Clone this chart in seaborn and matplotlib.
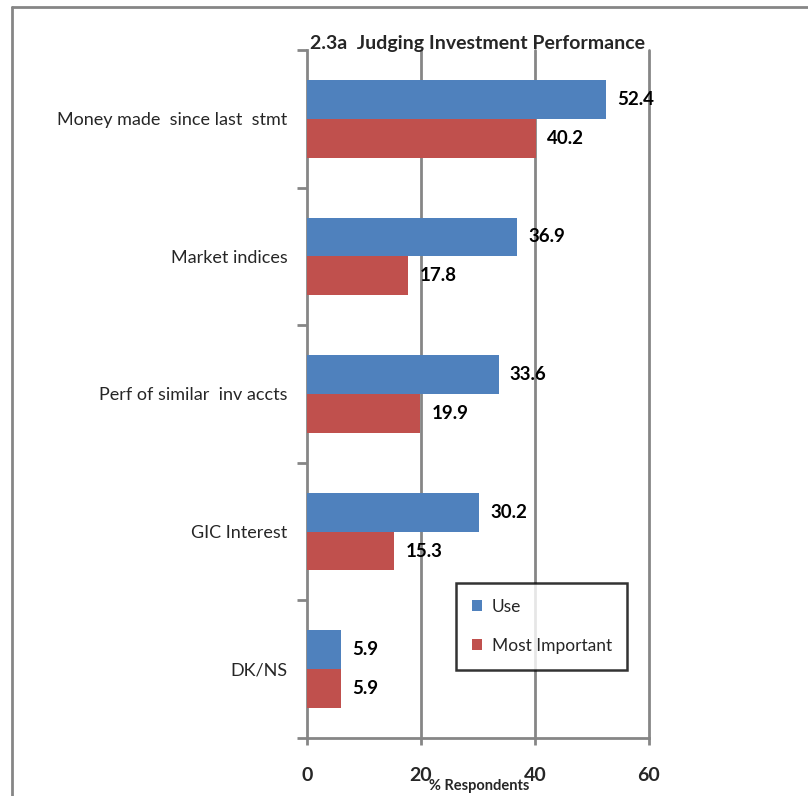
import matplotlib
matplotlib.use("Agg")
import matplotlib.pyplot as plt
from matplotlib.lines import Line2D
import seaborn as sns
import pandas as pd

categories = ["Money made  since last  stmt", "Market indices",
              "Perf of similar  inv accts", "GIC Interest", "DK/NS"]
use_vals = [52.4, 36.9, 33.6, 30.2, 5.9]
most_important_vals = [40.2, 17.8, 19.9, 15.3, 5.9]
series = ["Use", "Most Important"]
x_ticks = [0, 20, 40, 60]

df = pd.DataFrame({
    "category": categories * 2,
    "series": [series[0]] * len(categories) + [series[1]] * len(categories),
    "value": use_vals + most_important_vals,
})

sns.set_theme(style="white")
plt.rcParams["font.family"] = ["Lato", "DejaVu Sans"]

grid_gray = "#868686"
fig = plt.figure(figsize=(8.08, 7.96), dpi=100)
ax = fig.add_axes([307 / 808, 1 - 738 / 796, 342 / 808, 688 / 796])

sns.barplot(data=df, y="category", x="value", hue="series", orient="h",
            palette=["#4F81BD", "#C0504D"], width=0.565, saturation=1,
            linewidth=0, ax=ax, legend=True, zorder=3)

for cont in ax.containers:
    ax.bar_label(cont, fmt="%.1f", padding=8, fontsize=13.5,
                 fontweight="bold", color="black")

ax.set_xlim(0, 60)
ax.set_ylim(len(categories) - 0.5, -0.5)
ax.set_xticks(x_ticks)
ax.set_xticklabels([str(t) for t in x_ticks], fontsize=14, fontweight="bold")
ax.tick_params(axis="x", which="major", direction="out", length=5, width=2,
               color=grid_gray, pad=16, bottom=True)

# category boundaries carry the tick marks, labels sit at band centres
ax.set_yticks([i - 0.5 for i in range(len(categories) + 1)])
ax.set_yticklabels([])
ax.set_yticks(range(len(categories)), minor=True)
ax.set_yticklabels(categories, minor=True, fontsize=13)
ax.tick_params(axis="y", which="major", direction="out", length=7, width=2,
               color=grid_gray, left=True)
ax.tick_params(axis="y", which="minor", length=0, pad=14)

ax.grid(False)
for xv in x_ticks[1:]:
    ax.axvline(xv, color=grid_gray, lw=2, zorder=1, clip_on=False)

for side in ["top", "right"]:
    ax.spines[side].set_visible(False)
for side in ["left", "bottom"]:
    ax.spines[side].set_color(grid_gray)
    ax.spines[side].set_linewidth(2)

ax.set_ylabel("")
ax.set_xlabel("")
fig.text(479 / 808, 1 - 786 / 796, "% Respondents", fontsize=10.5,
         fontweight="bold", ha="center", va="center")
ax.set_title("2.3a  Judging Investment Performance", fontsize=14,
             fontweight="bold", pad=1)

leg = ax.legend(loc="upper left", bbox_to_anchor=(0.436, 0.2253),
                frameon=True, fancybox=False, fontsize=12.5,
                handlelength=0.6, handleheight=0.6, labelspacing=1.35,
                borderpad=0.9, handletextpad=0.55, borderaxespad=0,
                title=None)
leg.get_frame().set_edgecolor("black")
leg.get_frame().set_linewidth(1.8)
leg.set_zorder(5)

# outer frame of the chart area
fig.add_artist(Line2D([12 / 808, 1], [1 - 7 / 796, 1 - 7 / 796],
                      color=grid_gray, lw=2, transform=fig.transFigure))
fig.add_artist(Line2D([12 / 808, 12 / 808], [0, 1 - 7 / 796],
                      color=grid_gray, lw=2, transform=fig.transFigure))

fig.savefig("out.png", dpi=100)
